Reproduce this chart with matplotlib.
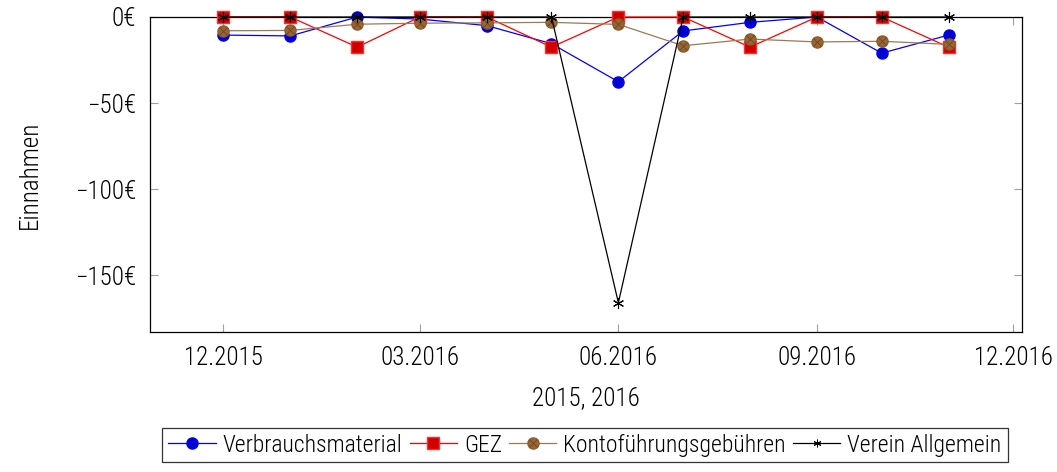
import datetime as dt
import matplotlib
matplotlib.use("Agg")
import matplotlib.pyplot as plt
import matplotlib.dates as mdates
from matplotlib import font_manager
from matplotlib.lines import Line2D

# monthly values, 12.2015 .. 11.2016
months = [dt.datetime(2015, 12, 1)] + [dt.datetime(2016, m, 1) for m in range(1, 12)]
verbrauchsmaterial = [-10.5, -11.0, 0.0, -1.2, -5.0, -15.5, -37.6, -8.1, -3.1, 0.0, -21.0, -10.5]
gez = [0.0, 0.0, -17.5, 0.0, 0.0, -17.5, 0.0, 0.0, -17.5, 0.0, 0.0, -17.5]
kontofuehrung = [-8.0, -7.8, -4.2, -3.6, -3.4, -3.1, -4.3, -16.7, -12.8, -14.5, -14.1, -15.9]
verein = [0.0, 0.0, 0.0, 0.0, 0.0, 0.0, -166.0, 0.0, 0.0, 0.0, 0.0, 0.0]

x_ticks = [dt.datetime(2015, 12, 1), dt.datetime(2016, 3, 1), dt.datetime(2016, 6, 1),
           dt.datetime(2016, 9, 1), dt.datetime(2016, 12, 1)]
y_ticks = [0, -50, -100, -150]
labels = ["Verbrauchsmaterial", "GEZ", "Kontoführungsgebühren", "Verein Allgemein"]

# pick a narrow font if there is one
names = {f.name for f in font_manager.fontManager.ttflist}
fam, narrow = "Liberation Sans", False
for cand in ["Roboto Condensed", "Liberation Sans Narrow", "Open Sans Condensed"]:
    if cand in names:
        fam, narrow = cand, True
        break
plt.rcParams["font.family"] = [fam, "DejaVu Sans"]
plt.rcParams["font.weight"] = "light"
plt.rcParams["axes.labelweight"] = "light"
fs = 18 if narrow else 16
leg_fs = 17 if narrow else 14
plt.rcParams["font.size"] = fs

fig = plt.figure(figsize=(10.57, 4.72), dpi=100)
ax = fig.add_axes([150 / 1057, 1 - 332 / 472, (1022 - 150) / 1057, (332 - 17) / 472])

ax.plot(months, verbrauchsmaterial, color="#0000ff", lw=0.9, marker="o", ms=8,
        mfc="#0000d0", mec="#0000ff", label=labels[0], zorder=3, clip_on=False)
ax.plot(months, gez, color="#ff0000", lw=0.9, marker="s", ms=8,
        mfc="#d00000", mec="#ff3030", label=labels[1], zorder=4, clip_on=False)
ax.plot(months, kontofuehrung, color="#9c7a55", lw=0.9, marker="o", ms=8,
        mfc="#996633", mec="#8a5c2e", zorder=5, clip_on=False)
ax.plot(months, kontofuehrung, ls="none", marker="x", ms=5.5, mew=0.6, mec="#6b4520",
        zorder=6, clip_on=False)
ax.plot(months, verein, color="black", lw=0.9, marker=(6, 2, 0), ms=8, mew=0.8,
        label=labels[3], zorder=7, clip_on=False)

ax.set_xlim(dt.datetime(2015, 10, 28), dt.datetime(2016, 12, 5))
ax.set_ylim(-183, 0)
ax.set_xticks(x_ticks)
ax.xaxis.set_major_formatter(mdates.DateFormatter("%m.%Y"))
ax.set_yticks(y_ticks)
ax.set_yticklabels(["0€" if v == 0 else "\u2212%d€" % abs(v) for v in y_ticks])
ax.tick_params(direction="in", length=6, color="#a0a0a0", top=True, right=True, pad=10)
for s in ax.spines.values():
    s.set_linewidth(0.9)

ax.set_xlabel("2015, 2016", labelpad=12)
ax.set_ylabel("Einnahmen", labelpad=24)

# legend handles (brown one needs the cross drawn on top)
h, l = ax.get_legend_handles_labels()
kont = (Line2D([], [], color="#9c7a55", lw=0.9, marker="o", ms=8, mfc="#996633", mec="#8a5c2e"),
        Line2D([], [], ls="none", marker="x", ms=5.5, mew=0.6, mec="#6b4520"))
verein_h = Line2D([], [], color="black", lw=0.9, marker=(6, 2, 0), ms=5.5, mew=0.7)
handles = [h[0], h[1], kont, verein_h]
leg = fig.legend(handles, labels, loc="center", bbox_to_anchor=(585 / 1057, 1 - 445 / 472),
                 ncol=4, frameon=True, fancybox=False, edgecolor="black", fontsize=leg_fs,
                 handlelength=2.0, handletextpad=0.3, columnspacing=0.3,
                 borderpad=0.25, borderaxespad=0)
leg.get_frame().set_linewidth(0.9)

fig.savefig("out.png", dpi=100)
